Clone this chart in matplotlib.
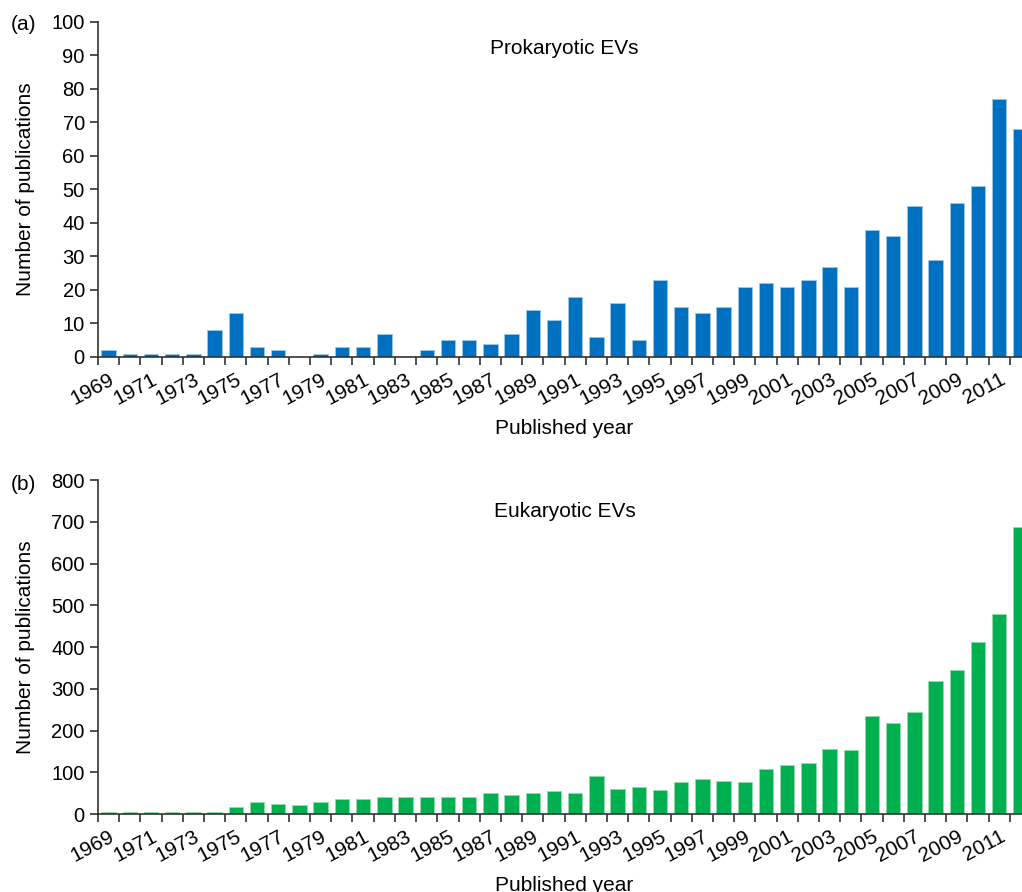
import matplotlib
matplotlib.use("Agg")
import matplotlib.pyplot as plt
import matplotlib.transforms as mtransforms
import numpy as np

plt.rcParams['font.family'] = ['Liberation Sans', 'DejaVu Sans']

years = list(range(1969, 2013))

prokaryotic = [2, 1, 1, 1, 1, 8, 13, 3, 2, 0,
               1, 3, 3, 7, 0, 2, 5, 5, 4, 7,
               14, 11, 18, 6, 16, 5, 23, 15, 13, 15,
               21, 22, 21, 23, 27, 21, 38, 36, 45, 29,
               46, 51, 77, 68]

eukaryotic = [5, 5, 5, 5, 5, 5, 17, 28, 25, 21,
              29, 36, 36, 40, 42, 42, 42, 42, 50, 46,
              50, 54, 50, 91, 61, 65, 57, 76, 84, 80,
              77, 107, 118, 122, 156, 153, 236, 217, 244, 319,
              346, 411, 479, 688]

blue = "#0070C0"
green = "#00B050"

fig = plt.figure(figsize=(10.22, 8.92), dpi=100)
ax1 = fig.add_axes([0.0959, 0.5998, 0.913, 0.3756])
ax2 = fig.add_axes([0.0959, 0.0874, 0.913, 0.3744])


def style(ax, vals, color, edge, ymax, step, title, ty):
    x = np.arange(len(years))
    ax.bar(x, vals, width=0.68, color=color, edgecolor=edge, linewidth=0.6)
    ax.set_xlim(-0.5, len(years) - 0.5)
    ax.set_ylim(0, ymax)
    ax.set_yticks(np.arange(0, ymax + 1, step))
    ax.spines['top'].set_visible(False)
    ax.spines['right'].set_visible(False)
    for s in ('left', 'bottom'):
        ax.spines[s].set_linewidth(1.2)
        ax.spines[s].set_color("#333333")
    ax.set_xticks(x[::2])
    ax.set_xticklabels([str(y) for y in years[::2]], rotation=28, ha='right',
                       rotation_mode='anchor', fontsize=15)
    # labels sit a little right of the bar centre, like the original
    shift = mtransforms.ScaledTranslation(8 / 100, 0, fig.dpi_scale_trans)
    for lab in ax.get_xticklabels():
        lab.set_transform(lab.get_transform() + shift)
    ax.set_xticks(np.arange(-0.5, len(years), 1), minor=True)
    ax.tick_params(axis='x', which='major', length=0, pad=9)
    ax.tick_params(axis='x', which='minor', length=6, width=1.2, color="#333333")
    ax.tick_params(axis='y', labelsize=14.5, length=6, width=1.2, color="#333333")
    ax.set_ylabel("Number of publications", fontsize=15, labelpad=12)
    ax.set_xlabel("Published year", fontsize=15, labelpad=8)
    ax.text(0.50, ty, title, transform=ax.transAxes, ha='center', va='center', fontsize=15)


style(ax1, prokaryotic, blue, "#9cc8e8", 100, 10, "Prokaryotic EVs", 0.922)
style(ax2, eukaryotic, green, "#8fdcaa", 800, 100, "Eukaryotic EVs", 0.907)

fig.text(0.011, 0.973, "(a)", fontsize=15, va='center')
fig.text(0.011, 0.457, "(b)", fontsize=15, va='center')

fig.savefig("out.png", dpi=100)
